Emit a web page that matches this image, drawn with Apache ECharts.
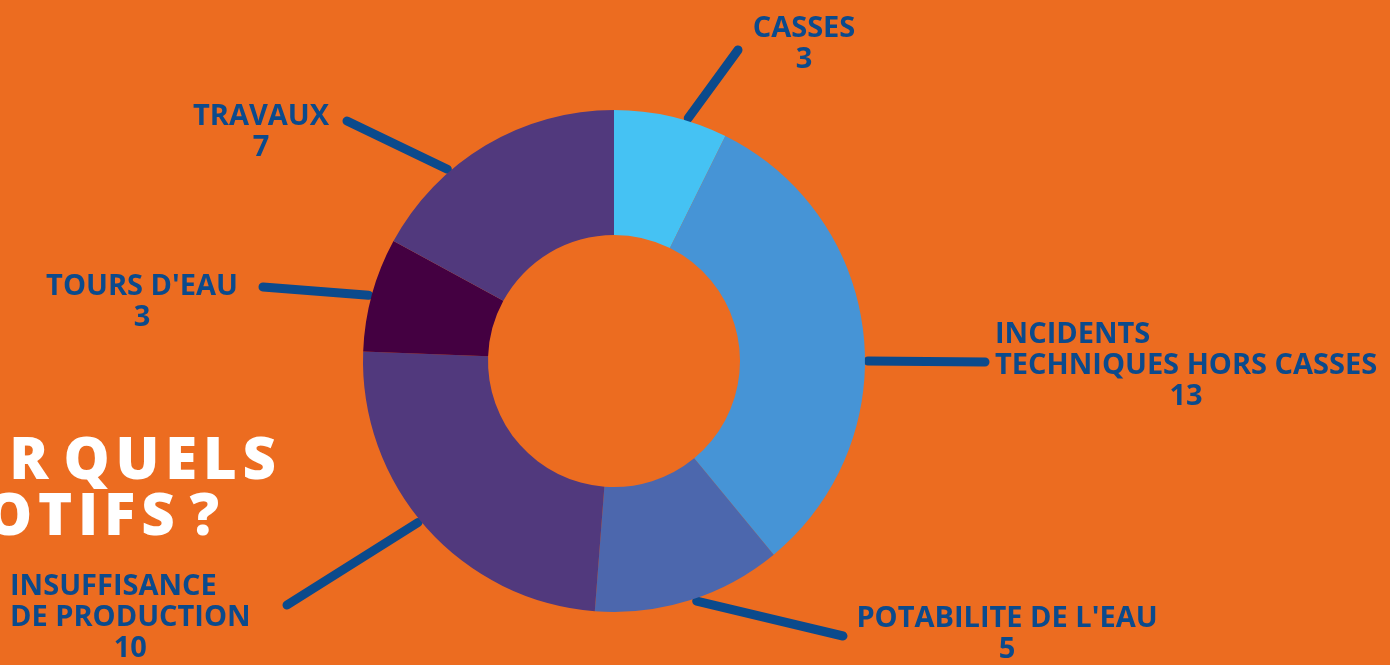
<!DOCTYPE html>
<html>
<head>
<meta charset="utf-8">
<script src="https://cdn.jsdelivr.net/npm/echarts@6/dist/echarts.min.js"></script>
<style>
html,body{margin:0;padding:0;background:#EC6C20;}
#chart{width:1390px;height:665px;}
</style>
</head>
<body>
<div id="chart"></div>
<script>
// ---- data ----
var categories = ['CASSES', 'INCIDENTS\nTECHNIQUES HORS CASSES', "POTABILITE DE L'EAU", 'INSUFFISANCE\nDE PRODUCTION', "TOURS D'EAU", 'TRAVAUX'];
var values = [3, 13, 5, 10, 3, 7];
var colors = ['#45C2F3', '#4694D6', '#4C67AD', '#51397D', '#440041', '#51397D'];
var titleLines = ['POUR QUELS', 'MOTIFS ?'];

// ---- layout (label placement only) ----
var CX = 614, CY = 361, R_IN = 126, R_OUT = 251;
var labelPos = [
  {x: 804, y: 44, align: 'center', lines: ['c', 'c'], lineAngle: 17, endDx: -66, endDy: 6},
  {x: 995, y: 366, align: 'left', lines: ['l', 'c', 'c'], lineAngle: 90, endDx: -10, endDy: -4},
  {x: 1007, y: 634, align: 'center', lines: ['c', 'c'], lineAngle: 161, endDx: -164, endDy: 2},
  {x: 10, y: 618, align: 'left', lines: ['l', 'l', 'c'], lineAngle: 230.5, endDx: 277, endDy: -13},
  {x: 142, y: 302, align: 'center', lines: ['c', 'c'], lineAngle: 285, endDx: 121, endDy: -15},
  {x: 261, y: 132, align: 'center', lines: ['c', 'c'], lineAngle: 319, endDx: 86, endDy: -11}
];

var TXT = '#0B4A8C';
var FONT = '"Open Sans", "DejaVu Sans", sans-serif';
var FS = 29;

function spaced(s) {
  return s.split(' ').map(function (w) { return w.split('').join('\u200A'); }).join(' ');
}

var chart = echarts.init(document.getElementById('chart'));
chart.setOption({
  backgroundColor: '#EC6C20',
  animation: false,
  graphic: [
    {type: 'text', x: 276, y: 462, style: {text: spaced(titleLines[0]), fill: '#FFFFFF', font: '800 58px ' + FONT, textAlign: 'right', textVerticalAlign: 'middle'}},
    {type: 'text', x: 219, y: 518, style: {text: spaced(titleLines[1]), fill: '#FFFFFF', font: '800 58px ' + FONT, textAlign: 'right', textVerticalAlign: 'middle'}}
  ],
  series: [{
    type: 'pie',
    center: [CX, CY],
    radius: [R_IN, R_OUT],
    startAngle: 90,
    clockwise: true,
    avoidLabelOverlap: false,
    silent: true,
    emphasis: {disabled: true},
    itemStyle: {borderWidth: 0},
    data: categories.map(function (c, i) {
      return {name: c, value: values[i], itemStyle: {color: colors[i]}};
    }),
    label: {
      show: true,
      position: 'outside',
      color: TXT,
      fontFamily: FONT,
      fontWeight: 'bold',
      fontSize: FS,
      lineHeight: 31,
      formatter: function (p) {
        var lines = p.name.split('\n').concat([String(p.value)]);
        var st = labelPos[p.dataIndex].lines;
        return lines.map(function (l, k) { return '{' + st[k] + '|' + l + '}'; }).join('\n');
      },
      rich: {
        l: {align: 'left', color: TXT, fontFamily: FONT, fontWeight: 'bold', fontSize: FS, lineHeight: 31},
        c: {align: 'center', color: TXT, fontFamily: FONT, fontWeight: 'bold', fontSize: FS, lineHeight: 31}
      }
    },
    labelLine: {
      show: true,
      length: 20,
      length2: 0,
      smooth: false,
      lineStyle: {color: TXT, width: 9, cap: 'round'}
    },
    labelLayout: function (params) {
      var lp = labelPos[params.dataIndex];
      var a = lp.lineAngle * Math.PI / 180;
      var r0 = R_OUT + 3;
      var start = [CX + r0 * Math.sin(a), CY - r0 * Math.cos(a)];
      var end = [lp.x + lp.endDx, lp.y + lp.endDy];
      return {x: lp.x, y: lp.y, align: lp.align, verticalAlign: 'middle',
        labelLinePoints: [start, end, end]};
    }
  }]
});
</script>
</body>
</html>
